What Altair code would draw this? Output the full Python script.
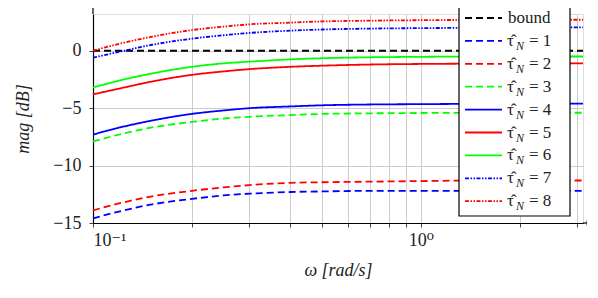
import altair as alt
import pandas as pd

# ---- data ----
omega = [0.1, 0.12, 0.15, 0.2, 0.25, 0.3, 0.4, 0.5, 0.7, 1.0, 1.5, 2.0, 3.12]
bound = [0.0, 0.0, 0.0, 0.0, 0.0, 0.0, 0.0, 0.0, 0.0, 0.0, 0.0, 0.0, 0.0]
tau1 = [-14.6, -14.0, -13.4, -12.9, -12.6, -12.45, -12.3, -12.25, -12.2, -12.2, -12.2, -12.2, -12.2]
tau2 = [-13.9, -13.3, -12.7, -12.2, -11.9, -11.7, -11.5, -11.45, -11.4, -11.35, -11.3, -11.3, -11.3]
tau3 = [-7.9, -7.3, -6.7, -6.2, -5.9, -5.75, -5.6, -5.5, -5.45, -5.42, -5.4, -5.4, -5.4]
tau4 = [-7.3, -6.7, -6.1, -5.5, -5.2, -5.0, -4.85, -4.75, -4.68, -4.65, -4.62, -4.6, -4.6]
tau5 = [-3.8, -3.3, -2.7, -2.1, -1.8, -1.6, -1.4, -1.3, -1.2, -1.15, -1.12, -1.1, -1.1]
tau6 = [-3.2, -2.6, -2.0, -1.4, -1.1, -0.95, -0.75, -0.65, -0.57, -0.53, -0.5, -0.5, -0.5]
tau7 = [-0.6, -0.1, 0.5, 1.05, 1.35, 1.55, 1.75, 1.85, 1.93, 1.97, 2.0, 2.02, 2.03]
tau8 = [0.0, 0.6, 1.2, 1.8, 2.1, 2.3, 2.45, 2.55, 2.62, 2.66, 2.69, 2.7, 2.7]

series_keys = ["bound", "1", "2", "3", "4", "5", "6", "7", "8"]
series_vals = [bound, tau1, tau2, tau3, tau4, tau5, tau6, tau7, tau8]
colors = ["#000000", "#0000ff", "#ff0000", "#00ff00", "#0000ff",
          "#ff0000", "#00ff00", "#0000ff", "#ff0000"]
DASHED = [7, 4]
SOLID = [1, 0]
DOTTED = [4, 1.5, 1.5, 1.5, 1.5, 1.5]
dashes = [DASHED, DASHED, DASHED, DASHED, SOLID, SOLID, SOLID, DOTTED, DOTTED]

x_grid = [0.1, 0.2, 0.3, 0.4, 0.5, 0.6, 0.7, 0.8, 0.9, 1.0, 2.0, 3.0]
y_ticks = [-15, -10, -5, 0]

rows = []
for k, vals in zip(series_keys, series_vals):
    for w, m in zip(omega, vals):
        rows.append({"omega": w, "mag": m, "series": k})
df = pd.DataFrame(rows)

FONT = "Liberation Serif, DejaVu Serif, serif"
W, H = 490, 209
TXT = "#222222"

color_scale = alt.Scale(domain=series_keys, range=colors)
dash_scale = alt.Scale(domain=series_keys, range=dashes)

lines = alt.Chart(df).mark_line(strokeWidth=1.8, clip=True, interpolate="monotone").encode(
    x=alt.X("omega:Q",
            scale=alt.Scale(type="log", domain=[0.1, 3.12], nice=False),
            axis=alt.Axis(values=x_grid,
                          labelExpr="datum.value == 0.1 ? '10⁻¹' : (datum.value == 1 ? '10⁰' : '')",
                          title="ω [rad/s]", titleFontStyle="italic",
                          grid=True, gridColor="#cccccc", gridWidth=1,
                          domainColor="#000000", domainWidth=1.2,
                          tickColor="#444444", tickSize=4,
                          labelFont=FONT, labelFontSize=18, labelColor=TXT,
                          labelPadding=4, labelOverlap=False,
                          titleFont=FONT, titleFontSize=18, titleFontWeight="normal",
                          titleColor=TXT, titlePadding=12)),
    y=alt.Y("mag:Q",
            scale=alt.Scale(domain=[-15, 3.2], nice=False, zero=False),
            axis=alt.Axis(values=y_ticks,
                          labelExpr="datum.value < 0 ? '−' + abs(datum.value) : '' + datum.value",
                          title="mag [dB]", titleFontStyle="italic",
                          grid=True, gridColor="#cccccc", gridWidth=1,
                          domainColor="#000000", domainWidth=1.2,
                          tickColor="#444444", tickSize=4,
                          labelFont=FONT, labelFontSize=18, labelColor=TXT,
                          labelPadding=8,
                          titleFont=FONT, titleFontSize=18, titleFontWeight="normal",
                          titleColor=TXT, titlePadding=20)),
    color=alt.Color("series:N", scale=color_scale, legend=None),
    strokeDash=alt.StrokeDash("series:N", scale=dash_scale, legend=None),
)

one = pd.DataFrame({"a": [0]})

# axis arrows
arrow_layers = [
    alt.Chart(one).mark_rule(color="black", strokeWidth=1.2).encode(
        x=alt.value(0), y=alt.value(-8), y2=alt.value(0)),
    alt.Chart(one).mark_rule(color="black", strokeWidth=1.2).encode(
        x=alt.value(W), x2=alt.value(W + 6), y=alt.value(H)),
    alt.Chart(one).mark_point(shape="triangle-up", filled=True, color="black", size=30, opacity=1).encode(
        x=alt.value(0), y=alt.value(-9)),
    alt.Chart(one).mark_point(shape="triangle-right", filled=True, color="black", size=30, opacity=1).encode(
        x=alt.value(W + 6), y=alt.value(H)),
]

# legend box
lx0, lx1, ly0, ly1 = 366, 477, -11, 202
legend_layers = [
    alt.Chart(one).mark_rect(fill="white", stroke="black", strokeWidth=1.2).encode(
        x=alt.value(lx0), x2=alt.value(lx1), y=alt.value(ly0), y2=alt.value(ly1)),
]
row_step = 22.9
for i, k in enumerate(series_keys):
    yy = 4 + row_step * i
    legend_layers.append(
        alt.Chart(one).mark_rule(strokeWidth=1.8).encode(
            x=alt.value(372), x2=alt.value(409), y=alt.value(yy),
            color=alt.value(colors[i]), strokeDash=alt.value(dashes[i])))
    if k == "bound":
        legend_layers.append(
            alt.Chart(pd.DataFrame({"t": ["bound"]})).mark_text(
                align="left", baseline="middle", font=FONT, fontSize=17, color=TXT).encode(
                text="t:N", x=alt.value(415), y=alt.value(yy)))
    else:
        legend_layers.append(
            alt.Chart(pd.DataFrame({"t": ["τ̂"]})).mark_text(
                align="left", baseline="middle", font=FONT, fontSize=17,
                color=TXT).encode(text="t:N", x=alt.value(414), y=alt.value(yy)))
        legend_layers.append(
            alt.Chart(pd.DataFrame({"t": ["N"]})).mark_text(
                align="left", baseline="middle", font=FONT, fontSize=12, fontStyle="italic",
                color=TXT).encode(text="t:N", x=alt.value(423), y=alt.value(yy + 5)))
        legend_layers.append(
            alt.Chart(pd.DataFrame({"t": ["= " + k]})).mark_text(
                align="left", baseline="middle", font=FONT, fontSize=17,
                color=TXT).encode(text="t:N", x=alt.value(436), y=alt.value(yy)))

chart = alt.layer(lines, *arrow_layers, *legend_layers).properties(
    width=W, height=H,
    autosize=alt.AutoSizeParams(type="none"),
    padding={"left": 85, "top": 6, "right": 4, "bottom": 60},
).configure_view(stroke=None).configure(background="white", font=FONT)

chart.save("out.html", embed_options={"renderer": "svg", "actions": False})
